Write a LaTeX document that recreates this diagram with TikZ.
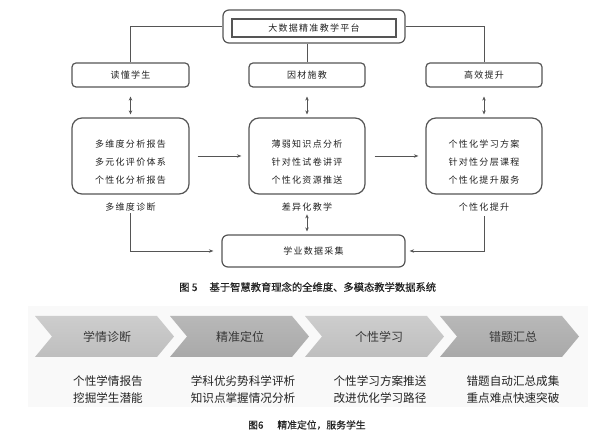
\documentclass[tikz,border=0pt]{standalone}
\usepackage{fontspec}
\newfontfamily\cjk{Noto Sans CJK SC}
\newfontfamily\cjksp{Noto Sans CJK SC}[LetterSpace=14]
\newfontfamily\cjkcap{Noto Sans CJK SC}[FakeBold=0.5]
\usetikzlibrary{arrows.meta}
\definecolor{linec}{HTML}{555555}
\definecolor{textc}{HTML}{222222}
\definecolor{chevA}{HTML}{CDCDCD}
\definecolor{chevAb}{HTML}{BEBEBE}
\definecolor{chevB}{HTML}{B8B8B8}
\definecolor{chevBb}{HTML}{A9A9A9}
\definecolor{bgc}{HTML}{F9F9F9}
\begin{document}
\begin{tikzpicture}[x=1pt,y=-1pt,
  box/.style={draw=linec, line width=1.2pt, rounded corners=4pt, minimum width=117pt, minimum height=24pt, inner sep=0pt, font=\cjksp\fontsize{9}{10}\selectfont, text=textc},
  bigbox/.style={box, rounded corners=10pt, minimum height=76pt},
  txt/.style={font=\cjksp\fontsize{9}{10}\selectfont, text=textc, inner sep=2pt},
  lines3/.style={txt, align=center, font=\cjksp\fontsize{9}{17.8}\selectfont},
  conn/.style={draw=linec, line width=0.8pt},
  arr/.style={conn, -{Stealth[length=4.5pt,width=3.5pt]}},
  darr/.style={conn, {Stealth[length=4pt,width=3.5pt]}-{Stealth[length=4pt,width=3.5pt]}},
  chevtitle/.style={font=\cjk\fontsize{12}{14}\selectfont, text=textc!90!white, inner sep=0pt},
  chevtext/.style={font=\cjk\fontsize{11.6}{17}\selectfont, text=textc, align=center, inner sep=0pt},
  captxt/.style={font=\cjkcap\fontsize{10.3}{12}\selectfont, text=textc, inner sep=0pt, anchor=west}
]
\useasboundingbox (0,0) rectangle (590,435);
\fill[white] (0,0) rectangle (590,435);

% ---------- Figure 5 ----------
\node[box, rounded corners=6pt, minimum width=182pt, minimum height=33pt] (plat) at (314,26.5) {};
\node[box, rounded corners=0pt, minimum width=164pt, minimum height=18pt] (platin) at (314,28) {大数据精准教学平台};

\node[box] (h1) at (130.5,75) {读懂学生};
\node[box, minimum width=116pt] (h2) at (307,75) {因材施教};
\node[box, minimum width=116pt] (h3) at (484,75) {高效提升};

\node[bigbox] (b1) at (130.5,156) {};
\node[bigbox, minimum width=116pt] (b2) at (307,156) {};
\node[bigbox, minimum width=116pt] (b3) at (484,156) {};

\node[lines3] (t1) at (130.5,162) {多维度分析报告\\多元化评价体系\\个性化分析报告};
\node[lines3] (t2) at (307,162) {薄弱知识点分析\\针对性试卷讲评\\个性化资源推送};
\node[lines3] (t3) at (484,162) {个性化学习方案\\针对性分层课程\\个性化提升服务};

\node[txt] (l1) at (130.5,207) {多维度诊断};
\node[txt] (l2) at (307,207) {差异化教学};
\node[txt] (l3) at (484,207) {个性化提升};

\node[box, rounded corners=6pt, minimum width=183pt, minimum height=32pt] (data) at (313.5,251) {学业数据采集};

\draw[conn] (plat.west) -| (h1.north);
\draw[conn] (plat.east) -| (h3.north);
\draw[conn] (h2.north) -- (h2.north |- plat.south);

\draw[darr, shorten <=9pt, shorten >=3pt] (h1.south) -- (b1.north);
\draw[darr, shorten <=9pt, shorten >=3pt] (h2.south) -- (b2.north);
\draw[darr, shorten <=9pt, shorten >=3pt] (h3.south) -- (b3.north);

\draw[arr, shorten <=8pt, shorten >=7pt] (b1.east) -- (b2.west);
\draw[arr, shorten <=9pt, shorten >=7pt] (b2.east) -- (b3.west);

\draw[arr, shorten >=8pt] (l1.south) |- (data.west);
\draw[arr, shorten <=3pt, shorten >=4pt] (l3.south) |- (data.east);
\draw[darr, shorten <=1pt, shorten >=3pt] (l2.south) -- (l2.south |- data.north);

\node[captxt] (cap1) at (179,287) {图 5\hspace{12pt}基于智慧教育理念的全维度、多模态教学数据系统};

% ---------- Figure 6 ----------
\fill[bgc] (28,306) rectangle (588,407);
\foreach \x/\ct/\cb in {35/chevA/chevAb,170/chevB/chevBb,305/chevA/chevAb,440/chevB/chevBb}{
  \shade[top color=\ct, bottom color=\cb]
    (\x,316) -- ++(122,0) -- ++(17,20.5) -- ++(-17,20.5) -- ++(-122,0) -- ++(17,-20.5) -- cycle;
}
\node[chevtitle] (c1) at (107,337) {学情诊断};
\node[chevtitle] (c2) at (240,337) {精准定位};
\node[chevtitle] (c3) at (379,337) {个性学习};
\node[chevtitle] (c4) at (513,337) {错题汇总};

\node[chevtext] (d1) at (108,390) {个性学情报告\\挖掘学生潜能};
\node[chevtext] (d2) at (243,390) {学科优劣势科学评析\\知识点掌握情况分析};
\node[chevtext] (d3) at (380,390) {个性学习方案推送\\改进优化学习路径};
\node[chevtext] (d4) at (513,390) {错题自动汇总成集\\重点难点快速突破};

\node[captxt, font=\cjkcap\fontsize{9.8}{12}\selectfont] (cap2) at (248,425) {图6\hspace{14pt}精准定位，服务学生};
\end{tikzpicture}
\end{document}
